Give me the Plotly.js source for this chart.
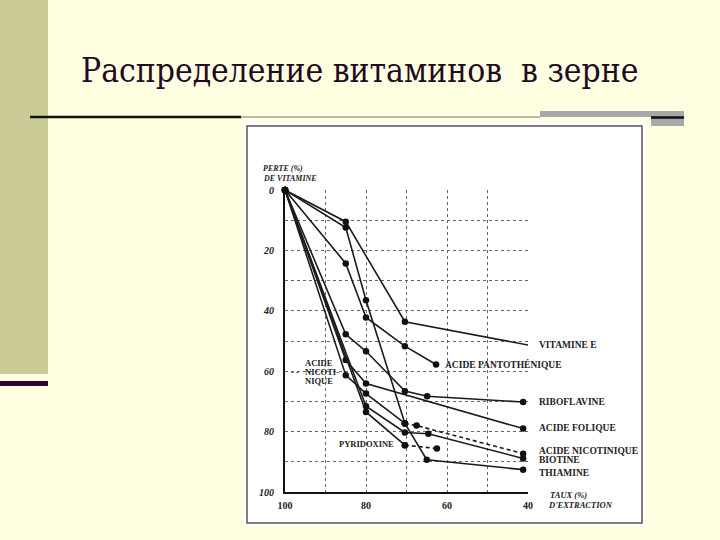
<!DOCTYPE html>
<html><head><meta charset="utf-8">
<script src="https://cdn.plot.ly/plotly-3.0.1.min.js"></script>
<style>html,body{margin:0;padding:0;background:#FFFFE1}</style>
</head><body><div id="chart" style="width:720px;height:540px"></div>
<script>
// ---------- data ----------
const slideTitle = "Распределение витаминов  в зерне";
const seriesNames = ["VITAMINE E", "ACIDE PANTOTHÉNIQUE", "THIAMINE", "RIBOFLAVINE",
                     "ACIDE FOLIQUE", "ACIDE NICOTINIQUE", "BIOTINE", "PYRIDOXINE"];
const yAxisTitle = ["PERTE (%)", "DE VITAMINE"];
const xAxisTitle = ["TAUX (%)", "D'EXTRACTION"];
const leftLabel = ["ACIDE", "NICOTI-", "NIQUE"];

const extrVitE = [100, 85, 70.4, 39.7];
const lossVitE = [0, 10.5, 43.6, 51.4];
const extrPanto = [100, 85, 80, 70.4, 62.7];
const lossPanto = [0, 24.3, 42.2, 51.7, 57.8];
const extrThia = [100, 85, 80, 70.4, 65, 41.2];
const lossThia = [0, 12.4, 36.5, 77.3, 89.3, 92.6];
const extrRibo = [100, 85, 80, 70.4, 64.9, 41.2];
const lossRibo = [0, 47.8, 53.4, 66.6, 68.3, 70.2];
const extrFol = [100, 85, 80, 41.2];
const lossFol = [0, 56.3, 64.1, 79.0];
const extrNic = [100, 85, 80, 70.4, 67.5, 41.2];
const lossNic = [0, 61.3, 67.4, 77.3, 78.0, 87.3];
const extrBio = [100, 80, 70.4, 64.6, 41.2];
const lossBio = [0, 71.6, 80.3, 80.7, 88.9];
const extrPyr = [100, 80, 70.4, 62.5];
const lossPyr = [0, 73.5, 84.5, 85.6];

const xTickVals = [100, 80, 60, 40];
const xTickText = ["100", "80", "60", "40"];
const yTickVals = [0, 20, 40, 60, 80, 100];
const yTickText = ["0", "20", "40", "60", "80", "100"];
const xGridVals = [100, 90, 80, 70, 60, 50, 40];
const yGridVals = [0, 10, 20, 30, 40, 50, 60, 70, 80, 90, 100];

// ---------- helpers ----------
const W = 720, H = 540;
const PX = p => p / W;
const PY = p => 1 - p / H;
const INK = '#1c1c1c';

function trace(xs, ys, name, dash) {
  return {
    type: 'scatter', mode: 'lines+markers', x: xs, y: ys, name: name,
    line: {color: INK, width: 1.6, dash: dash || 'solid'},
    marker: {size: 6.5, color: '#111'},
    cliponaxis: false, hoverinfo: 'skip', showlegend: false
  };
}

const traces = [
  trace(extrVitE, lossVitE, seriesNames[0]),
  trace(extrPanto, lossPanto, seriesNames[1]),
  trace(extrThia, lossThia, seriesNames[2]),
  trace(extrRibo, lossRibo, seriesNames[3]),
  trace(extrFol, lossFol, seriesNames[4]),
  trace(extrNic.slice(0, 4), lossNic.slice(0, 4), seriesNames[5]),
  trace(extrNic.slice(3), lossNic.slice(3), seriesNames[5], '4px,3px'),
  trace(extrBio, lossBio, seriesNames[6]),
  trace(extrPyr.slice(0, 3), lossPyr.slice(0, 3), seriesNames[7]),
  trace(extrPyr.slice(2), lossPyr.slice(2), seriesNames[7], '4px,3px')
];

const SERIF = "'Liberation Serif', serif";
const TITLE_FONT = "'DejaVu Serif Condensed', 'DejaVu Serif', serif";
const labFont = {family: SERIF, size: 9.5, color: '#222', weight: 'bold'};
const leftFont = {family: SERIF, size: 8.5, color: '#222', weight: 'bold'};
const titFont = {family: SERIF, size: 8, color: '#222', weight: 'bold', style: 'italic'};

function ann(text, x, y, font, xanchor) {
  return {text: text, xref: 'paper', yref: 'paper', x: PX(x), y: PY(y),
          xanchor: xanchor || 'left', yanchor: 'middle', showarrow: false, font: font};
}

const annotations = [
  ann(slideTitle, 79, 70, {family: TITLE_FONT, size: 33.3, color: '#220a22'}),
  ann(seriesNames[0], 537, 345, labFont),
  ann(seriesNames[1], 443, 364, labFont),
  ann(seriesNames[3], 537, 402, labFont),
  ann(seriesNames[4], 537, 428, labFont),
  ann(seriesNames[5], 537, 451, labFont),
  ann(seriesNames[6], 537, 460, labFont),
  ann(seriesNames[2], 537, 473, labFont),
  ann(seriesNames[7], 366, 444, leftFont, 'center'),
  ann(leftLabel[0], 303, 363, leftFont),
  ann(leftLabel[1], 303, 372, leftFont),
  ann(leftLabel[2], 303, 381, leftFont),
  ann('- -', 289, 372, leftFont),
  ann(yAxisTitle[0], 261, 168, titFont),
  ann(yAxisTitle[1], 261, 178, titFont),
  ann(xAxisTitle[0], 548, 495, {...titFont, size: 8.5}),
  ann(xAxisTitle[1], 546, 505, {...titFont, size: 8.5})
];

function rect(x0, y0, x1, y1, fill, line) {
  return {type: 'rect', xref: 'paper', yref: 'paper', x0: PX(x0), x1: PX(x1), y0: PY(y0), y1: PY(y1),
          fillcolor: fill, line: line || {width: 0}, layer: 'below'};
}
function hline(x0, x1, y, color, width) {
  return {type: 'line', xref: 'paper', yref: 'paper', x0: PX(x0), x1: PX(x1), y0: PY(y), y1: PY(y),
          line: {color: color, width: width}, layer: 'below'};
}

const shapes = [
  rect(0, 0, 48, 374, '#CBCB97'),
  rect(0, 381, 48, 386, '#330033'),
  hline(30, 241, 117, '#111', 2.5),
  hline(241, 540, 117, '#777', 1),
  rect(540, 111, 684, 117, '#A8A8A8'),
  rect(651, 117, 684, 126, '#A8A8A8'),
  hline(651, 684, 117.5, '#111', 2.5),
  rect(244, 122, 646, 526, '#FFFFFF'),
  rect(247, 126, 642, 523, 'rgba(0,0,0,0)', {color: '#555', width: 1.5})
];

function labelsFor(grid, vals, texts) {
  return grid.map(v => { const i = vals.indexOf(v); return i >= 0 ? texts[i] : ''; });
}

const layout = {
  width: W, height: H,
  margin: {l: 0, r: 0, t: 0, b: 0},
  paper_bgcolor: '#FFFFE1', plot_bgcolor: '#FFFFFF',
  showlegend: false, hovermode: false,
  xaxis: {
    domain: [PX(285), PX(528)], range: [100, 40],
    tickmode: 'array', tickvals: xGridVals, ticktext: labelsFor(xGridVals, xTickVals, xTickText),
    ticks: '', ticklabelstandoff: 3,
    tickfont: {family: SERIF, size: 10, color: '#222', weight: 'bold'},
    showgrid: true, gridcolor: '#666', gridwidth: 1, griddash: 'dot',
    showline: true, linecolor: '#111', linewidth: 2, zeroline: false
  },
  yaxis: {
    domain: [PY(492), PY(190)], range: [100, 0],
    tickmode: 'array', tickvals: yGridVals, ticktext: labelsFor(yGridVals, yTickVals, yTickText),
    ticks: '', ticklabelstandoff: 7,
    tickfont: {family: SERIF, size: 10, color: '#222', weight: 'bold', style: 'italic'},
    showgrid: true, gridcolor: '#666', gridwidth: 1, griddash: 'dot',
    showline: true, linecolor: '#111', linewidth: 2, zeroline: false
  },
  shapes: shapes,
  annotations: annotations
};

Plotly.newPlot('chart', traces, layout, {staticPlot: true, displayModeBar: false});
</script>
</body></html>
